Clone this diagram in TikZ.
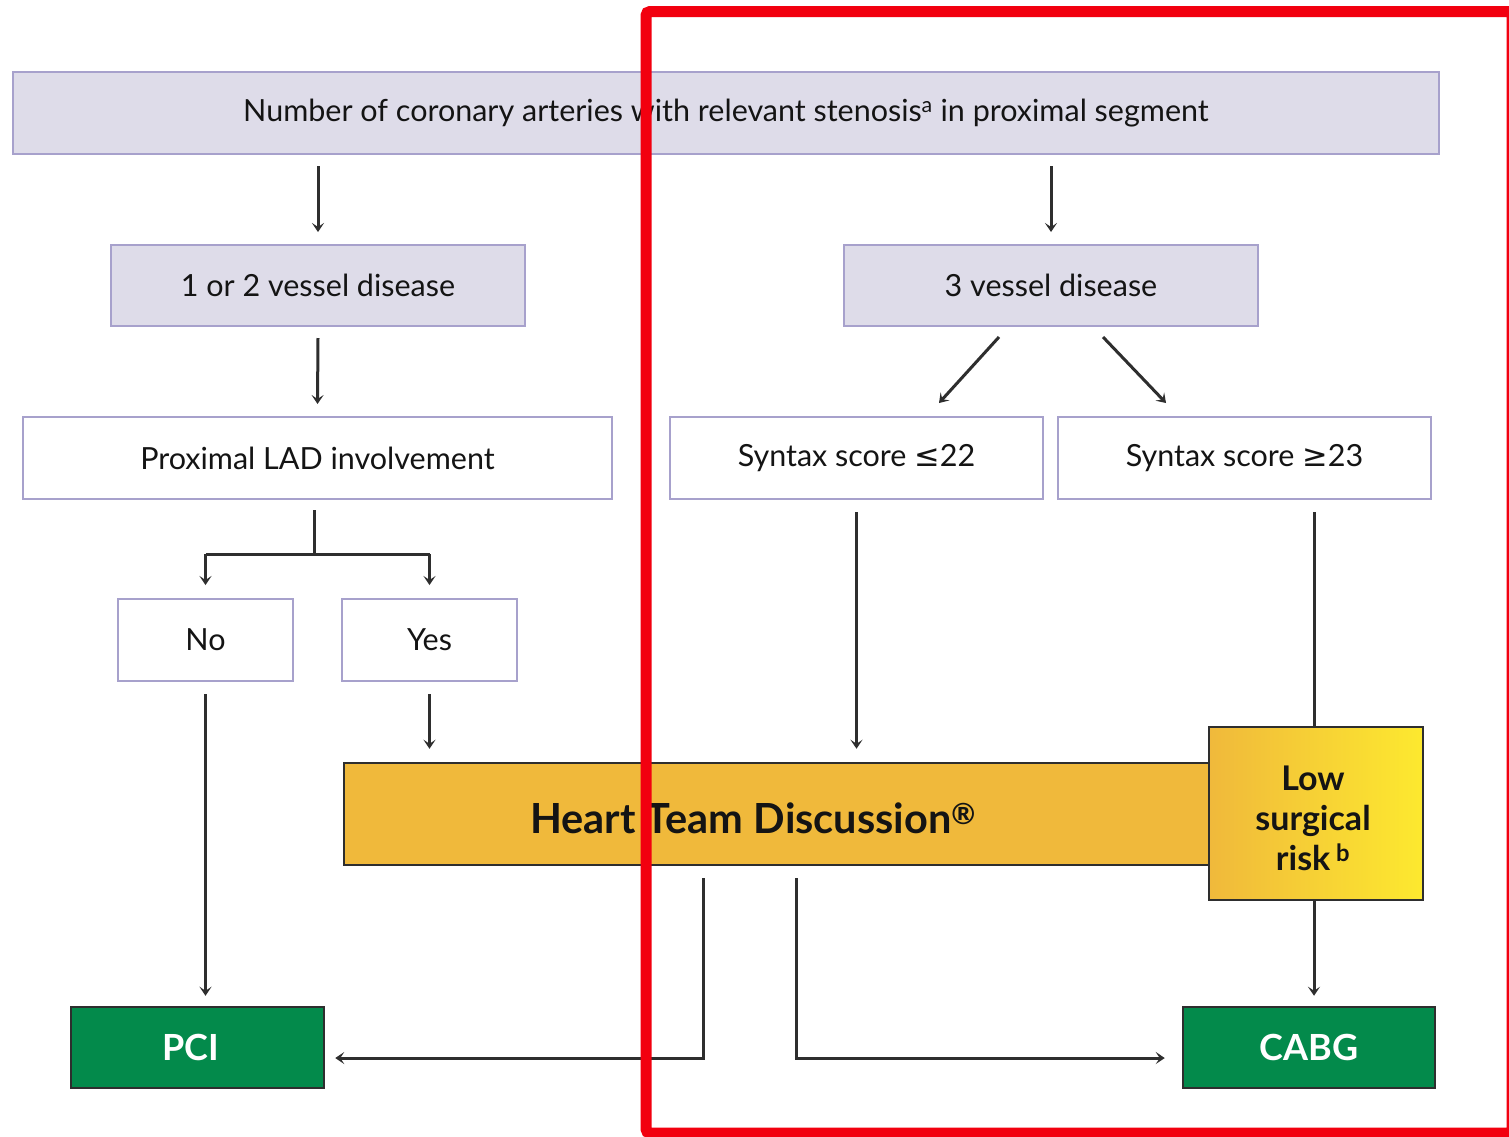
\documentclass[tikz,border=0pt]{standalone}
\usepackage{fontspec}
\setmainfont{Lato}
\newfontfamily\symfont{DejaVu Sans}
\usetikzlibrary{arrows.meta,calc}
\definecolor{lavfill}{HTML}{DEDCE9}
\definecolor{lavline}{HTML}{A7A1CC}
\definecolor{orng}{HTML}{F0B93B}
\definecolor{yel}{HTML}{FDE92F}
\definecolor{grn}{HTML}{038A4B}
\definecolor{dark}{HTML}{2E2E2E}
\definecolor{redline}{HTML}{F2000F}
\begin{document}
\begin{tikzpicture}[x=1pt,y=-1pt,
  lavbox/.style={draw=lavline,line width=2pt,fill=lavfill,inner sep=0pt,font=\fontsize{30.5}{36}\selectfont,text=black!92},
  whbox/.style={draw=lavline,line width=2pt,fill=white,inner sep=0pt,font=\fontsize{30.5}{36}\selectfont,text=black!92},
  grnbox/.style={draw=dark,line width=2.5pt,fill=grn,inner sep=0pt,text=white,font=\bfseries\fontsize{36}{40}\selectfont},
  arr/.style={line width=3pt,draw=dark,-{Stealth[length=9pt,width=12pt,inset=4pt]}},
  ln/.style={line width=3pt,draw=dark}]
\useasboundingbox (0,0) rectangle (1509,1136);
\fill[white] (0,0) rectangle (1509,1136);

\node[lavbox,minimum width=1426pt,minimum height=82pt] (top) at (726,113) {Number of coronary arteries with relevant stenosis\textsuperscript{a} in proximal segment};
\node[lavbox,minimum width=414pt,minimum height=81pt] (v12) at (318,285.5) {\raisebox{-2pt}{1 or 2 vessel disease}};
\node[lavbox,minimum width=414pt,minimum height=81pt] (v3) at (1051,285.5) {\raisebox{-2pt}{3 vessel disease}};
\node[whbox,minimum width=589pt,minimum height=82pt] (prox) at (317.5,458) {Proximal LAD involvement};
\node[whbox,minimum width=373pt,minimum height=82pt] (s22) at (856.5,458) {\raisebox{-3pt}{Syntax score {\symfont ≤}22}};
\node[whbox,minimum width=373pt,minimum height=82pt] (s23) at (1244.5,458) {\raisebox{-3pt}{Syntax score {\symfont ≥}23}};
\node[whbox,minimum width=175pt,minimum height=82pt] (no) at (205.5,640) {No};
\node[whbox,minimum width=175pt,minimum height=82pt] (yes) at (429.5,640) {Yes};
\node[draw=dark,line width=2.5pt,fill=orng,minimum width=866pt,minimum height=102pt,inner sep=0pt] (heart) at (777,814) {};
\node[font=\bfseries\fontsize{41.5}{46}\selectfont,text=black!92] (hearttxt) at (753,818) {Heart Team Discussion\textsuperscript{®}};
\node[draw=dark,line width=2.5pt,left color=orng,right color=yel,minimum width=214pt,minimum height=173pt,inner sep=0pt] (low) at (1316,813.5) {};
\node[align=center,font=\bfseries\fontsize{34}{40}\selectfont,text=black!92] (lowtxt) at (1313,818) {Low\\surgical\\risk\,\textsuperscript{b}};
\node[grnbox,minimum width=253pt,minimum height=81pt] (pci) at (197.5,1047.5) {\hspace*{-14pt}PCI};
\node[grnbox,minimum width=252pt,minimum height=81pt] (cabg) at (1309,1047.5) {CABG};

% connectors
\draw[arr] ($(top.south -| v12.north)+(0,11)$) -- ($(v12.north)+(0,-12)$);
\draw[arr] ($(top.south -| v3.north)+(0,11)$) -- ($(v3.north)+(0,-12)$);
\draw[arr] ($(v12.south)+(0,11)$) -- ($(prox.north)+(0,-12)$);
\draw[arr] ($(v3.south)+(-52,10)$) -- ($(s22.north)+(82.5,-13)$);
\draw[arr] ($(v3.south)+(52,10)$) -- ($(s23.north)+(-78.5,-13)$);
\coordinate (br) at ($(prox.south)+(-3.5,10)$);
\draw[ln] (br) -- ++(0,44) coordinate (brm);
\draw[arr] (brm -| no.north) -- ($(no.north)+(0,-13)$);
\draw[arr] (brm -| yes.north) -- ($(yes.north)+(0,-13)$);
\draw[ln] (brm -| no.north) -- (brm -| yes.north);
\draw[arr] ($(no.south)+(0,12)$) -- ($(pci.north -| no.south)+(0,-10)$);
\draw[arr] ($(yes.south)+(0,12)$) -- ($(heart.north -| yes.south)+(0,-13)$);
\draw[arr] ($(s22.south)+(0,12)$) -- ($(heart.north -| s22.south)+(0,-13)$);
\draw[ln] ($(s23.south)+(69.5,12)$) -- (low.north -| 1314,0);
\draw[arr] (low.south -| 1314,0) -- ($(cabg.north -| 1314,0)+(0,-10)$);
\coordinate (hl) at ($(heart.south -| 703,0)+(0,12)$);
\coordinate (hr) at ($(heart.south -| 796,0)+(0,12)$);
\draw[arr] (hl) |- ($(pci.east)+(10,10.5)$);
\draw[arr] (hr) |- ($(cabg.west)+(-17,10.5)$);

% red frame
\draw[redline,line width=11pt,rounded corners=4pt] (646,11.5) rectangle (1512,1133);
\end{tikzpicture}
\end{document}
